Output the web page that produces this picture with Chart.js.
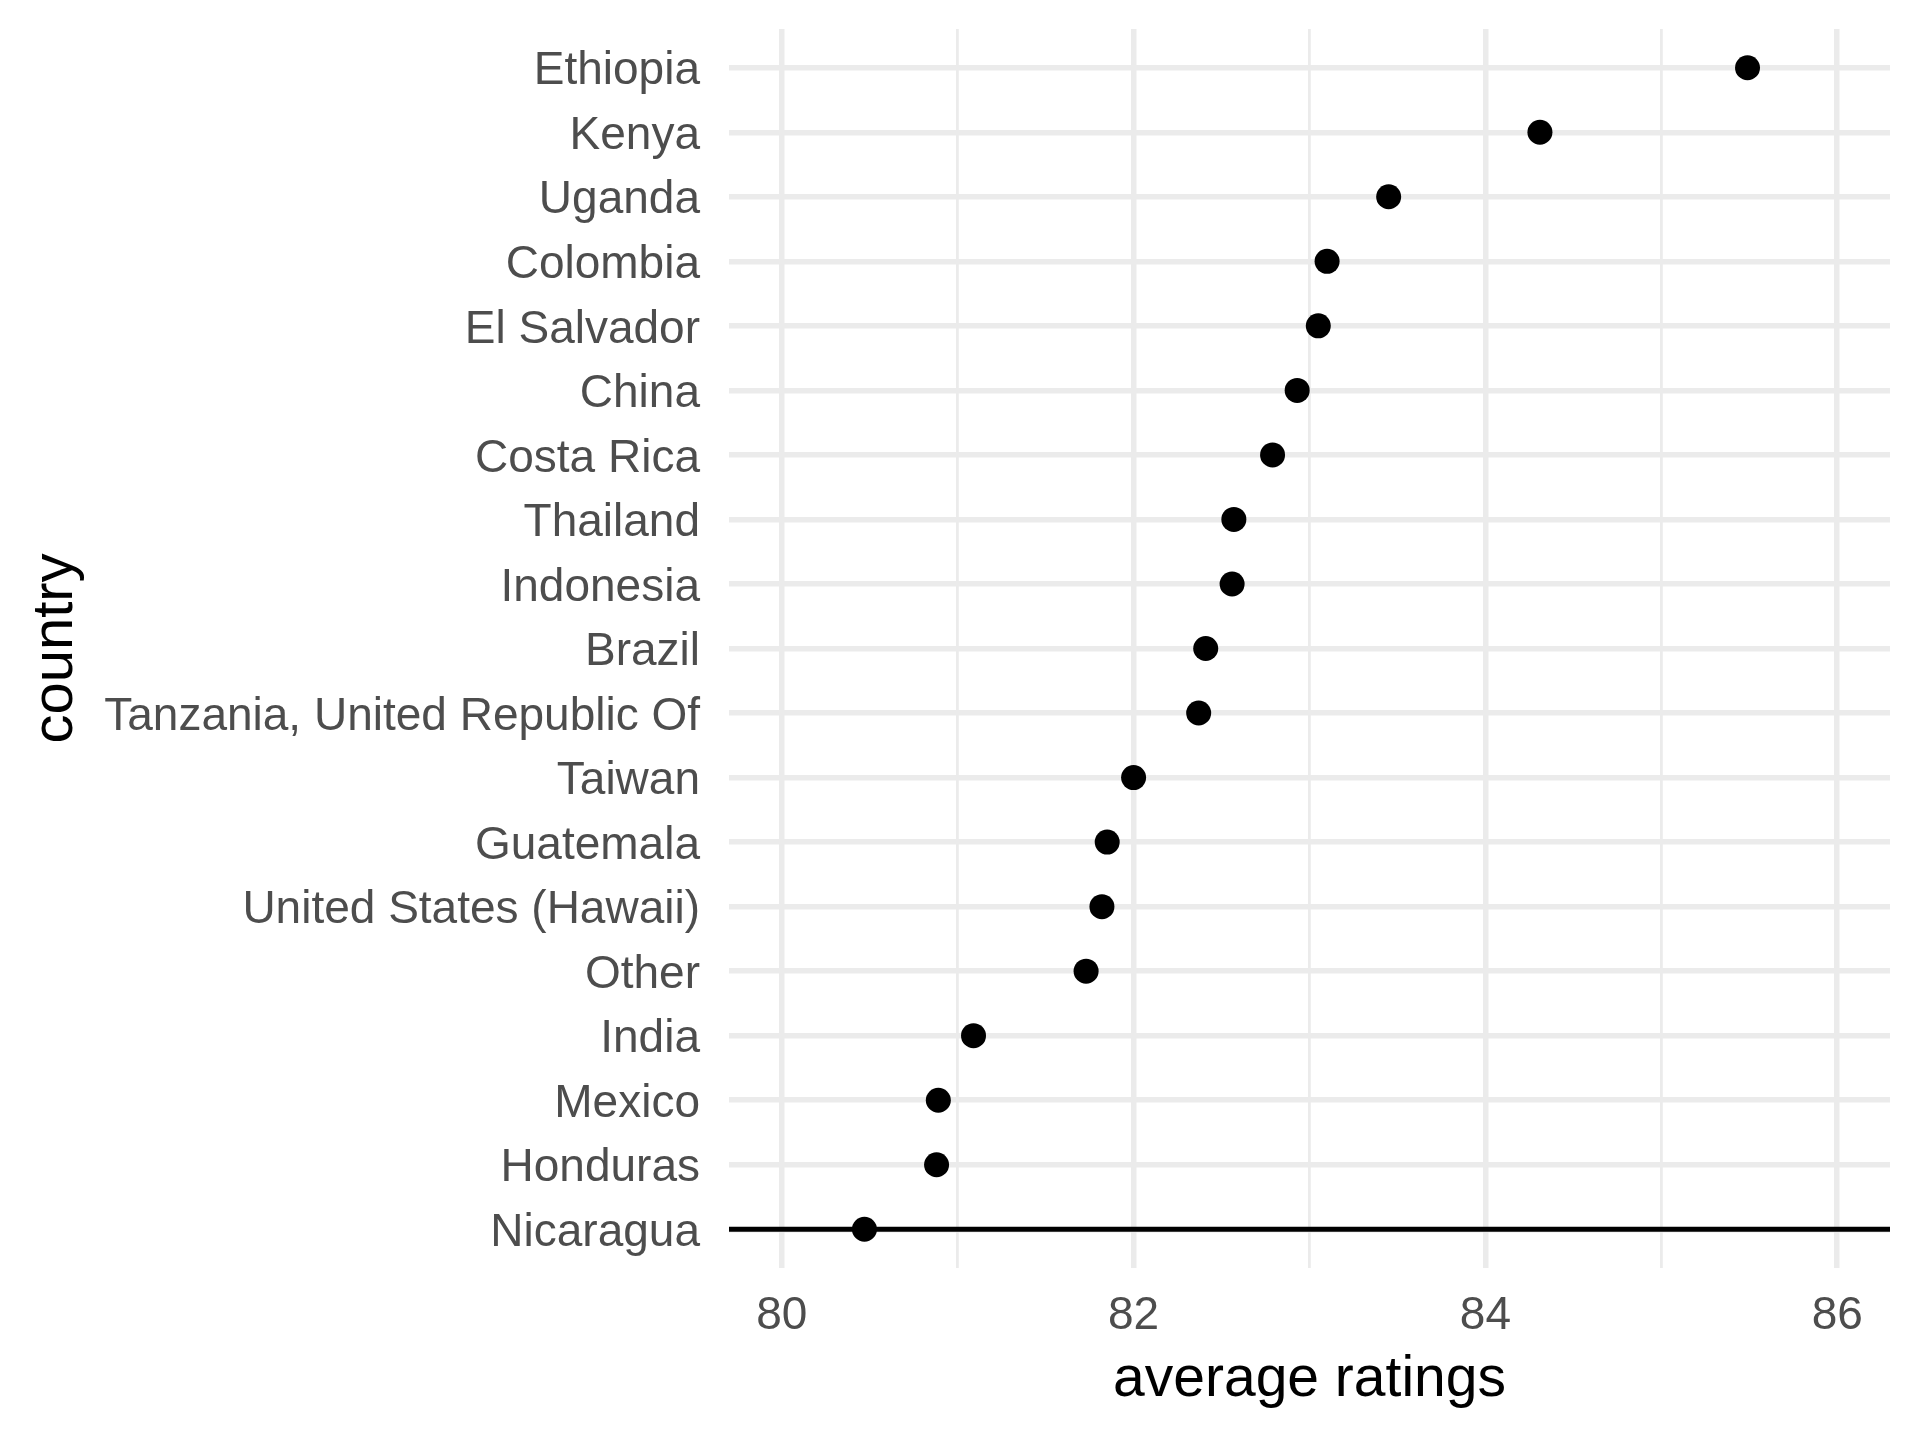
<!DOCTYPE html>
<html>
<head>
<meta charset="utf-8">
<script src="https://cdn.jsdelivr.net/npm/chart.js@4"></script>
<style>
  html, body { margin: 0; padding: 0; background: #fff; }
  canvas { display: block; }
</style>
</head>
<body>
<canvas id="chart" width="1920" height="1440" style="width:1920px;height:1440px"></canvas>
<script>
// countries, top to bottom
const countries = [
    "Ethiopia", "Kenya", "Uganda", "Colombia", "El Salvador", "China",
    "Costa Rica", "Thailand", "Indonesia", "Brazil",
    "Tanzania, United Republic Of", "Taiwan", "Guatemala",
    "United States (Hawaii)", "Other", "India", "Mexico", "Honduras", "Nicaragua"
];
const avgRatings = [
    85.49, 84.31, 83.45, 83.10, 83.05, 82.93,
    82.79, 82.57, 82.56, 82.41,
    82.37, 82.00, 81.85,
    81.82, 81.73, 81.09, 80.89, 80.88, 80.47
];
const xTicks = [80, 81, 82, 83, 84, 85, 86];
const refCountry = "Nicaragua"; // black reference line

const FONT = "'Liberation Sans', Arial, sans-serif";

// horizontal black line across the panel at the reference country
const refLine = {
    id: "refLine",
    beforeDatasetsDraw(chart) {
        const { ctx, chartArea, scales } = chart;
        const y = scales.y.getPixelForValue(countries.indexOf(refCountry));
        ctx.save();
        ctx.strokeStyle = "#000";
        ctx.lineWidth = 5;
        ctx.beginPath();
        ctx.moveTo(chartArea.left, y);
        ctx.lineTo(chartArea.right, y);
        ctx.stroke();
        ctx.restore();
    },
};

new Chart(document.getElementById("chart"), {
    type: "scatter",
    data: {
        datasets: [
            {
                data: countries.map((c, i) => ({ x: avgRatings[i], y: i })),
                backgroundColor: "#000",
                borderWidth: 0,
                pointRadius: 12.5,
                pointHoverRadius: 12.5,
            },
        ],
    },
    options: {
        responsive: false,
        devicePixelRatio: 1,
        animation: false,
        layout: { padding: { top: 29, right: 30, left: 0, bottom: 0 } },
        plugins: {
            legend: { display: false },
            tooltip: { enabled: false },
        },
        scales: {
            x: {
                type: "linear",
                min: 79.7,
                max: 86.3,
                afterBuildTicks: (scale) => {
                    scale.ticks = xTicks.map((v) => ({ value: v }));
                },
                afterFit: (scale) => {
                    scale.height = 172;
                    scale.paddingLeft = 0;
                    scale.paddingRight = 0;
                },
                border: { display: false },
                grid: {
                    color: "#EBEBEB",
                    lineWidth: (ctx) => (ctx.tick && ctx.tick.value % 2 === 0 ? 5.5 : 2.8),
                    drawTicks: false,
                },
                ticks: {
                    padding: 21,
                    maxRotation: 0,
                    color: "#4D4D4D",
                    font: { family: FONT, size: 46 },
                    callback: (v) => (v % 2 === 0 ? String(v) : ""),
                },
                title: {
                    display: true,
                    text: "average ratings",
                    color: "#000",
                    font: { family: FONT, size: 57 },
                    padding: { top: 0, bottom: 26 },
                },
            },
            y: {
                type: "linear",
                reverse: true,
                min: -0.6,
                max: countries.length - 1 + 0.6,
                afterBuildTicks: (scale) => {
                    scale.ticks = countries.map((c, i) => ({ value: i }));
                },
                afterFit: (scale) => {
                    scale.width = 729;
                    scale.paddingTop = 0;
                    scale.paddingBottom = 0;
                },
                border: { display: false },
                grid: {
                    color: "#EBEBEB",
                    lineWidth: 5.5,
                    drawTicks: false,
                },
                ticks: {
                    padding: 29,
                    labelOffset: 4,
                    autoSkip: false,
                    color: "#4D4D4D",
                    font: { family: FONT, size: 46 },
                    callback: (v) => countries[v],
                },
                title: {
                    display: true,
                    text: "country",
                    color: "#000",
                    font: { family: FONT, size: 58 },
                    padding: { top: 21, bottom: 0 },
                },
            },
        },
    },
    plugins: [refLine],
});
</script>
</body>
</html>
